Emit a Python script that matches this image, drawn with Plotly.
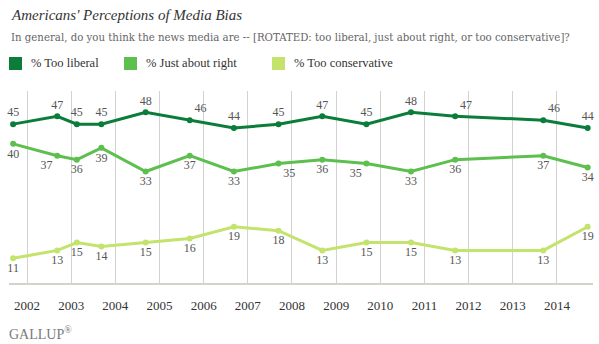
import plotly.graph_objects as go

# ---- data ----
dates = ["2001-09-08", "2002-09-08", "2003-02-17", "2003-09-08", "2004-09-08",
         "2005-09-08", "2006-09-08", "2007-09-12", "2008-09-08", "2009-09-08",
         "2010-09-12", "2011-09-12", "2013-09-10", "2014-09-12"]
too_liberal = [45, 47, 45, 45, 48, 46, 44, 45, 47, 45, 48, 47, 46, 44]
just_right = [40, 37, 36, 39, 33, 37, 33, 35, 36, 35, 33, 36, 37, 34]
too_conservative = [11, 13, 15, 14, 15, 16, 19, 18, 13, 15, 15, 13, 13, 19]
series_names = ["% Too liberal", "% Just about right", "% Too conservative"]
year_ticks = [str(y) for y in range(2002, 2015)]

colors = ["#0b7d3a", "#5dbf4e", "#c4e36c"]
FONT = "Liberation Serif"

W, H = 599, 344
L, R, T, B = 9, 6, 91, 61
PW, PH = W - L - R, H - T - B


def px(x, y):
    return (x - L) / PW, (H - B - y) / PH


pos_lib = ["top center"] * 14
pos_lib[5] = "top right"
pos_lib[11] = "top right"
pos_lib[12] = "top right"
pos_right = ["bottom center"] * 14
pos_right[1] = "bottom left"
pos_right[7] = "bottom right"
pos_right[9] = "bottom left"
pos_cons = ["bottom center"] * 14

fig = go.Figure()
for vals, col, pos, name in zip([too_liberal, just_right, too_conservative], colors,
                                [pos_lib, pos_right, pos_cons], series_names):
    fig.add_trace(go.Scatter(
        x=dates, y=vals, mode="lines+markers+text", name=name,
        line=dict(color=col, width=3), marker=dict(color=col, size=6),
        text=[str(v) for v in vals], textposition=pos,
        textfont=dict(family=FONT, size=12, color="#555555"),
        showlegend=False, cliponaxis=False, hoverinfo="skip"))

annotations = []
shapes = []
# title & subtitle
x0, y0 = px(9, 15)
annotations.append(dict(x=x0, y=y0, xref="paper", yref="paper", xanchor="left", yanchor="middle",
                        text="<i>Americans' Perceptions of Media Bias</i>", showarrow=False,
                        font=dict(family=FONT, size=15, color="#333333")))
x0, y0 = px(9, 37)
annotations.append(dict(x=x0, y=y0, xref="paper", yref="paper", xanchor="left", yanchor="middle",
                        text="In general, do you think the news media are -- [ROTATED: too liberal, just about right, or too conservative]?",
                        showarrow=False, font=dict(family="DejaVu Serif", size=10.2, color="#666666")))
# legend (manual)
leg_sq = [9, 124, 272]
for sx, col, name in zip(leg_sq, colors, series_names):
    a0, b0 = px(sx, 57)
    a1, b1 = px(sx + 13, 70)
    shapes.append(dict(type="rect", xref="paper", yref="paper", x0=a0, x1=a1, y0=b1, y1=b0,
                       fillcolor=col, line=dict(width=0)))
    tx, ty = px(sx + 20, 63.5)
    annotations.append(dict(x=tx, y=ty, xref="paper", yref="paper", xanchor="left", yanchor="middle",
                            text=name, showarrow=False, font=dict(family=FONT, size=12.5, color="#333333")))
# logo
gx, gy = px(7, 333)
annotations.append(dict(x=gx, y=gy, xref="paper", yref="paper", xanchor="left", yanchor="middle",
                        text="GALLUP<sup>®</sup>", showarrow=False,
                        font=dict(family=FONT, size=14, color="#7a7a7a")))

fig.update_layout(
    width=W, height=H, margin=dict(l=L, r=R, t=T, b=B, pad=0),
    paper_bgcolor="white", plot_bgcolor="white",
    annotations=annotations, shapes=shapes, showlegend=False,
    xaxis=dict(type="date", range=["2001-08-05", "2014-10-26"],
               tickvals=[f"{y}-01-01" for y in year_ticks], ticktext=year_ticks,
               showgrid=True, gridcolor="#d2d2d2", gridwidth=1,
               showline=True, linecolor="#d3d3cb", linewidth=2,
               ticks="", ticklabelstandoff=9,
               tickfont=dict(family=FONT, size=13, color="#333333"),
               zeroline=False, fixedrange=True),
    yaxis=dict(range=[4.74, 53.4], showgrid=False, showticklabels=False,
               zeroline=False, showline=False, fixedrange=True),
)

fig.write_html("out.html")
